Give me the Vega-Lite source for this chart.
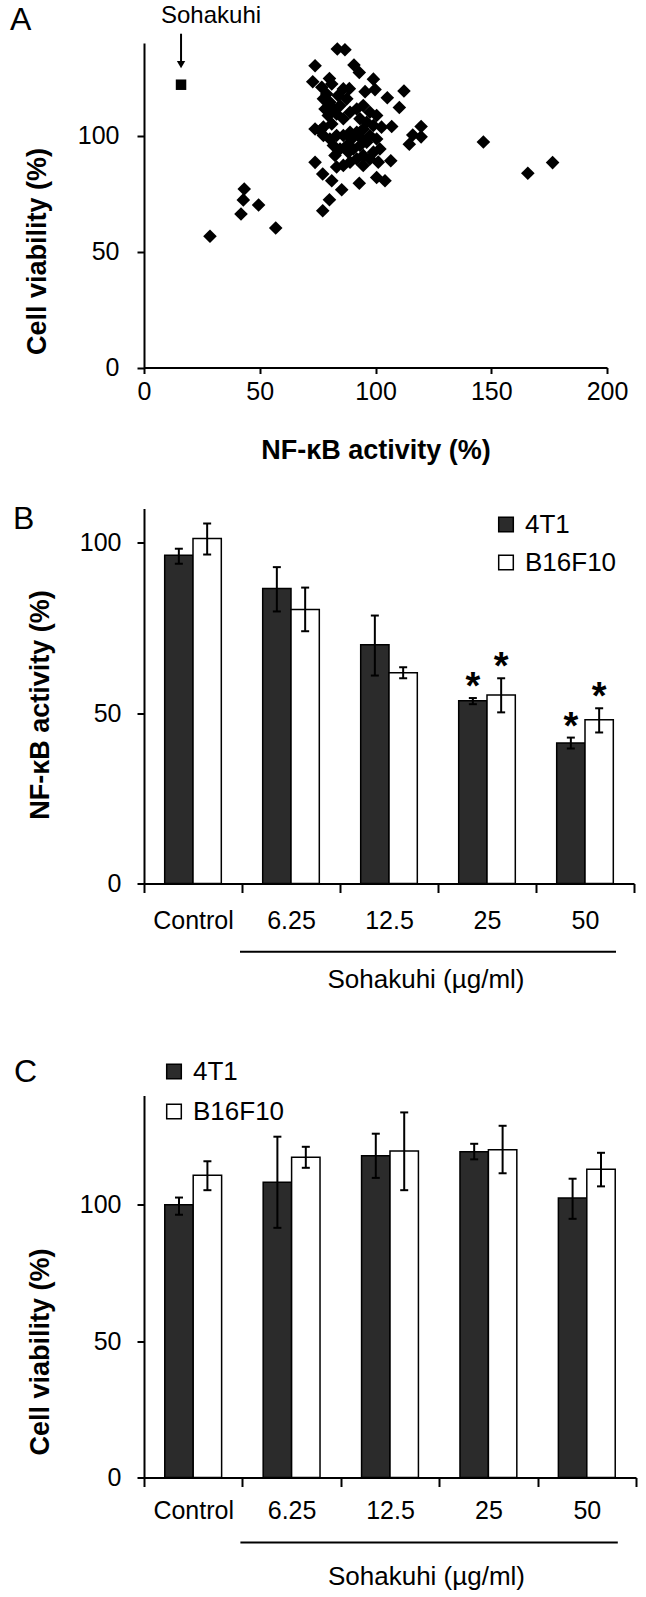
{
  "$schema": "https://vega.github.io/schema/vega-lite/v6.json",
  "padding": {"left": 10, "top": 3, "right": 5, "bottom": 5},
  "config": {
    "font": "Liberation Sans",
    "view": {"stroke": null},
    "axis": {"grid": false, "domainColor": "black", "tickColor": "black", "labelColor": "black", "titleColor": "black", "domainWidth": 2, "tickWidth": 2, "labelFontSize": 25, "titleFontSize": 27, "labelFlush": false, "labelOverlap": false, "labelFont": "Liberation Sans", "titleFont": "Liberation Sans"},
    "legend": {"labelFont": "Liberation Sans", "labelColor": "black"},
    "title": {"fontSize": 32, "fontWeight": "normal", "anchor": "start", "frame": "group", "color": "black", "font": "Liberation Sans"}
  },
  "datasets": {
    "scatter": [
      {"kind": "Sohakuhi", "nfkb": 16, "viability": 122},
      {"kind": "extract", "nfkb": 28.5, "viability": 56.6},
      {"kind": "extract", "nfkb": 43.3, "viability": 77.0},
      {"kind": "extract", "nfkb": 42.9, "viability": 72.3},
      {"kind": "extract", "nfkb": 49.5, "viability": 70.1},
      {"kind": "extract", "nfkb": 41.9, "viability": 66.2},
      {"kind": "extract", "nfkb": 56.9, "viability": 60.2},
      {"kind": "extract", "nfkb": 146.6, "viability": 97.3},
      {"kind": "extract", "nfkb": 165.8, "viability": 83.8},
      {"kind": "extract", "nfkb": 176.5, "viability": 88.4},
      {"kind": "extract", "nfkb": 77.2, "viability": 67.6},
      {"kind": "extract", "nfkb": 80.1, "viability": 72.4},
      {"kind": "extract", "nfkb": 73.9, "viability": 130.2},
      {"kind": "extract", "nfkb": 83.5, "viability": 137.4},
      {"kind": "extract", "nfkb": 86.8, "viability": 137.1},
      {"kind": "extract", "nfkb": 90.7, "viability": 130.5},
      {"kind": "extract", "nfkb": 93.0, "viability": 127.3},
      {"kind": "extract", "nfkb": 99.1, "viability": 124.4},
      {"kind": "extract", "nfkb": 112.3, "viability": 119.3},
      {"kind": "extract", "nfkb": 105.1, "viability": 116.4},
      {"kind": "extract", "nfkb": 110.3, "viability": 112.2},
      {"kind": "extract", "nfkb": 72.9, "viability": 123.3},
      {"kind": "extract", "nfkb": 80.1, "viability": 124.7},
      {"kind": "extract", "nfkb": 95.5, "viability": 119.0},
      {"kind": "extract", "nfkb": 99.8, "viability": 119.9},
      {"kind": "extract", "nfkb": 88.7, "viability": 120.3},
      {"kind": "extract", "nfkb": 107.0, "viability": 104.0},
      {"kind": "extract", "nfkb": 116.1, "viability": 100.3},
      {"kind": "extract", "nfkb": 119.7, "viability": 104.0},
      {"kind": "extract", "nfkb": 119.7, "viability": 99.5},
      {"kind": "extract", "nfkb": 114.6, "viability": 96.3},
      {"kind": "extract", "nfkb": 73.9, "viability": 102.9},
      {"kind": "extract", "nfkb": 73.9, "viability": 88.5},
      {"kind": "extract", "nfkb": 77.2, "viability": 83.5},
      {"kind": "extract", "nfkb": 81.1, "viability": 80.6},
      {"kind": "extract", "nfkb": 85.4, "viability": 76.7},
      {"kind": "extract", "nfkb": 93.0, "viability": 79.5},
      {"kind": "extract", "nfkb": 100.5, "viability": 82.0},
      {"kind": "extract", "nfkb": 104.1, "viability": 80.6},
      {"kind": "extract", "nfkb": 106.6, "viability": 89.2},
      {"kind": "extract", "nfkb": 76.8, "viability": 120.9},
      {"kind": "extract", "nfkb": 78.9, "viability": 118.0},
      {"kind": "extract", "nfkb": 77.5, "viability": 115.9},
      {"kind": "extract", "nfkb": 80.3, "viability": 114.4},
      {"kind": "extract", "nfkb": 78.2, "viability": 111.5},
      {"kind": "extract", "nfkb": 81.8, "viability": 111.5},
      {"kind": "extract", "nfkb": 79.6, "viability": 108.7},
      {"kind": "extract", "nfkb": 83.9, "viability": 117.3},
      {"kind": "extract", "nfkb": 86.1, "viability": 120.2},
      {"kind": "extract", "nfkb": 87.6, "viability": 115.9},
      {"kind": "extract", "nfkb": 84.7, "viability": 113.0},
      {"kind": "extract", "nfkb": 83.2, "viability": 109.4},
      {"kind": "extract", "nfkb": 81.1, "viability": 105.1},
      {"kind": "extract", "nfkb": 77.5, "viability": 103.7},
      {"kind": "extract", "nfkb": 89.0, "viability": 110.1},
      {"kind": "extract", "nfkb": 91.9, "viability": 111.5},
      {"kind": "extract", "nfkb": 94.7, "viability": 113.0},
      {"kind": "extract", "nfkb": 97.6, "viability": 110.1},
      {"kind": "extract", "nfkb": 93.3, "viability": 107.3},
      {"kind": "extract", "nfkb": 96.2, "viability": 105.8},
      {"kind": "extract", "nfkb": 100.5, "viability": 108.7},
      {"kind": "extract", "nfkb": 99.1, "viability": 104.4},
      {"kind": "extract", "nfkb": 94.7, "viability": 102.9},
      {"kind": "extract", "nfkb": 91.9, "viability": 101.5},
      {"kind": "extract", "nfkb": 89.0, "viability": 101.5},
      {"kind": "extract", "nfkb": 86.1, "viability": 100.1},
      {"kind": "extract", "nfkb": 83.2, "viability": 100.1},
      {"kind": "extract", "nfkb": 80.3, "viability": 98.6},
      {"kind": "extract", "nfkb": 77.5, "viability": 100.1},
      {"kind": "extract", "nfkb": 76.1, "viability": 102.2},
      {"kind": "extract", "nfkb": 81.8, "viability": 95.8},
      {"kind": "extract", "nfkb": 84.7, "viability": 94.3},
      {"kind": "extract", "nfkb": 87.6, "viability": 95.8},
      {"kind": "extract", "nfkb": 90.4, "viability": 94.3},
      {"kind": "extract", "nfkb": 93.3, "viability": 95.8},
      {"kind": "extract", "nfkb": 96.2, "viability": 97.2},
      {"kind": "extract", "nfkb": 97.6, "viability": 100.1},
      {"kind": "extract", "nfkb": 100.5, "viability": 98.6},
      {"kind": "extract", "nfkb": 101.9, "viability": 94.3},
      {"kind": "extract", "nfkb": 94.7, "viability": 91.5},
      {"kind": "extract", "nfkb": 91.9, "viability": 90.0},
      {"kind": "extract", "nfkb": 89.0, "viability": 88.6},
      {"kind": "extract", "nfkb": 86.1, "viability": 87.2},
      {"kind": "extract", "nfkb": 83.2, "viability": 86.5},
      {"kind": "extract", "nfkb": 94.7, "viability": 87.2},
      {"kind": "extract", "nfkb": 97.6, "viability": 90.0},
      {"kind": "extract", "nfkb": 99.1, "viability": 92.9},
      {"kind": "extract", "nfkb": 102.6, "viability": 103.7},
      {"kind": "extract", "nfkb": 86.1, "viability": 107.3},
      {"kind": "extract", "nfkb": 89.7, "viability": 98.6},
      {"kind": "extract", "nfkb": 93.3, "viability": 99.4},
      {"kind": "extract", "nfkb": 82.5, "viability": 91.5},
      {"kind": "extract", "nfkb": 101.2, "viability": 88.6},
      {"kind": "extract", "nfkb": 88.3, "viability": 92.9},
      {"kind": "extract", "nfkb": 81.1, "viability": 122.3}
    ],
    "nfkb": [
      {"conc": "Control", "line": "4T1", "mean": 96.3, "lo": 93.8, "hi": 98.2, "star": ""},
      {"conc": "Control", "line": "B16F10", "mean": 101.2, "lo": 96.5, "hi": 105.6, "star": ""},
      {"conc": "6.25", "line": "4T1", "mean": 86.5, "lo": 79.8, "hi": 92.8, "star": ""},
      {"conc": "6.25", "line": "B16F10", "mean": 80.4, "lo": 74.0, "hi": 86.8, "star": ""},
      {"conc": "12.5", "line": "4T1", "mean": 70.0, "lo": 61.0, "hi": 78.6, "star": ""},
      {"conc": "12.5", "line": "B16F10", "mean": 61.8, "lo": 60.2, "hi": 63.4, "star": ""},
      {"conc": "25", "line": "4T1", "mean": 53.6, "lo": 52.6, "hi": 54.4, "star": "*"},
      {"conc": "25", "line": "B16F10", "mean": 55.3, "lo": 50.2, "hi": 60.2, "star": "*"},
      {"conc": "50", "line": "4T1", "mean": 41.2, "lo": 39.6, "hi": 42.8, "star": "*"},
      {"conc": "50", "line": "B16F10", "mean": 48.0, "lo": 44.3, "hi": 51.4, "star": "*"}
    ],
    "viab": [
      {"conc": "Control", "line": "4T1", "mean": 100.0, "lo": 96.3, "hi": 102.6},
      {"conc": "Control", "line": "B16F10", "mean": 110.8, "lo": 105.3, "hi": 115.9},
      {"conc": "6.25", "line": "4T1", "mean": 108.2, "lo": 91.5, "hi": 124.9},
      {"conc": "6.25", "line": "B16F10", "mean": 117.4, "lo": 113.5, "hi": 121.2},
      {"conc": "12.5", "line": "4T1", "mean": 117.9, "lo": 109.8, "hi": 126.0},
      {"conc": "12.5", "line": "B16F10", "mean": 119.7, "lo": 105.3, "hi": 133.8},
      {"conc": "25", "line": "4T1", "mean": 119.4, "lo": 116.6, "hi": 122.3},
      {"conc": "25", "line": "B16F10", "mean": 120.1, "lo": 111.5, "hi": 128.9},
      {"conc": "50", "line": "4T1", "mean": 102.4, "lo": 94.8, "hi": 109.5},
      {"conc": "50", "line": "B16F10", "mean": 113.0, "lo": 106.7, "hi": 119.0}
    ],
    "bracket": [{"from": "6.25", "to": "50"}]
  },
  "vconcat": [
    {
      "width": 463,
      "height": 324.5,
      "title": {"text": "A", "dx": -134, "dy": 37.5},
      "data": {"name": "scatter"},
      "layer": [
        {
          "mark": {"type": "point", "filled": true, "opacity": 1, "color": "black"},
          "encoding": {
            "x": {"field": "nfkb", "type": "quantitative", "scale": {"domain": [0, 200], "nice": false},
              "axis": {"values": [0, 50, 100, 150, 200], "title": "NF-κB activity (%)", "titleFontWeight": "bold", "titleY": 83, "titleBaseline": "middle", "labelPadding": 6, "tickSize": 6}},
            "y": {"field": "viability", "type": "quantitative", "scale": {"domain": [0, 140], "nice": false},
              "axis": {"values": [0, 50, 100], "title": "Cell viability (%)", "titleFontWeight": "bold", "titleX": -107, "titleY": 208, "titleBaseline": "middle", "tickSize": 7, "labelPadding": 18}},
            "shape": {"field": "kind", "type": "nominal", "scale": {"domain": ["extract", "Sohakuhi"], "range": ["diamond", "square"]}, "legend": null},
            "size": {"field": "kind", "type": "nominal", "scale": {"domain": ["extract", "Sohakuhi"], "range": [185, 110]}, "legend": null}
          }
        },
        {
          "transform": [{"filter": "datum.kind === 'Sohakuhi'"}],
          "mark": {"type": "rule", "strokeWidth": 2, "color": "black", "yOffset": -51, "y2Offset": -20},
          "encoding": {
            "x": {"field": "nfkb", "type": "quantitative"},
            "y": {"field": "viability", "type": "quantitative"},
            "y2": {"field": "viability"}
          }
        },
        {
          "transform": [{"filter": "datum.kind === 'Sohakuhi'"}],
          "mark": {"type": "point", "shape": "triangle-down", "filled": true, "opacity": 1, "color": "black", "size": 70, "yOffset": -20},
          "encoding": {
            "x": {"field": "nfkb", "type": "quantitative"},
            "y": {"field": "viability", "type": "quantitative"}
          }
        },
        {
          "transform": [{"filter": "datum.kind === 'Sohakuhi'"}],
          "mark": {"type": "text", "fontSize": 24, "dx": 30, "dy": -69, "baseline": "middle", "color": "black"},
          "encoding": {
            "x": {"field": "nfkb", "type": "quantitative"},
            "y": {"field": "viability", "type": "quantitative"},
            "text": {"field": "kind"}
          }
        }
      ]
    },
    {
      "vconcat": [
        {
          "width": 490,
          "height": 375,
          "title": {"text": "B", "dx": -131, "dy": 45},
          "layer": [
            {
              "data": {"name": "nfkb"},
              "layer": [
                {
                  "mark": {"type": "bar", "stroke": "black", "strokeWidth": 1.5},
                  "encoding": {
                    "x": {"field": "conc", "type": "nominal", "scale": {"domain": ["Control", "6.25", "12.5", "25", "50"], "paddingInner": 0, "paddingOuter": 0},
                      "axis": {"title": "Sohakuhi (µg/ml)", "titleFontWeight": "normal", "titleFontSize": 26, "titleX": 281.5, "titleY": 96, "titleBaseline": "middle", "labelAngle": 0, "labelPadding": 16, "tickSize": 9, "tickBand": "extent"}},
                    "xOffset": {"field": "line", "type": "nominal", "scale": {"domain": ["4T1", "B16F10"], "paddingOuter": 0.731, "paddingInner": 0}},
                    "y": {"field": "mean", "type": "quantitative", "scale": {"domain": [0, 110], "nice": false},
                      "axis": {"values": [0, 50, 100], "title": "NF-κB activity (%)", "titleFontWeight": "bold", "titleX": -104, "titleY": 196, "titleBaseline": "middle", "tickSize": 7, "labelPadding": 16}},
                    "fill": {"field": "line", "type": "nominal", "scale": {"domain": ["4T1", "B16F10"], "range": ["#2b2b2b", "#ffffff"]},
                      "legend": {"orient": "none", "legendX": 349, "legendY": 3, "title": null, "symbolType": "square", "symbolSize": 213, "symbolStrokeColor": "black", "symbolStrokeWidth": 1.5, "labelFontSize": 26, "labelOffset": 6, "rowPadding": 12, "padding": 0}}
                  }
                },
                {
                  "mark": {"type": "rule", "strokeWidth": 2, "color": "black"},
                  "encoding": {
                    "x": {"field": "conc", "type": "nominal"},
                    "xOffset": {"field": "line", "type": "nominal"},
                    "y": {"field": "lo", "type": "quantitative"},
                    "y2": {"field": "hi"}
                  }
                },
                {
                  "mark": {"type": "tick", "orient": "horizontal", "size": 8, "thickness": 2, "color": "black", "opacity": 1},
                  "encoding": {
                    "x": {"field": "conc", "type": "nominal"},
                    "xOffset": {"field": "line", "type": "nominal"},
                    "y": {"field": "lo", "type": "quantitative"}
                  }
                },
                {
                  "mark": {"type": "tick", "orient": "horizontal", "size": 8, "thickness": 2, "color": "black", "opacity": 1},
                  "encoding": {
                    "x": {"field": "conc", "type": "nominal"},
                    "xOffset": {"field": "line", "type": "nominal"},
                    "y": {"field": "hi", "type": "quantitative"}
                  }
                },
                {
                  "mark": {"type": "text", "fontSize": 38, "fontWeight": "bold", "dy": 1, "baseline": "alphabetic", "color": "black"},
                  "encoding": {
                    "x": {"field": "conc", "type": "nominal"},
                    "xOffset": {"field": "line", "type": "nominal"},
                    "y": {"field": "hi", "type": "quantitative"},
                    "text": {"field": "star"}
                  }
                }
              ]
            },
            {
              "data": {"name": "bracket"},
              "mark": {"type": "rule", "strokeWidth": 2, "color": "black", "xOffset": -2, "x2Offset": 31},
              "encoding": {
                "x": {"field": "from", "type": "nominal", "bandPosition": 0},
                "x2": {"field": "to"},
                "y": {"datum": -20}
              }
            }
          ]
        },
        {
          "width": 492,
          "height": 382,
          "title": {"text": "C", "dx": -130, "dy": 34},
          "layer": [
            {
              "data": {"name": "viab"},
              "layer": [
                {
                  "mark": {"type": "bar", "stroke": "black", "strokeWidth": 1.5},
                  "encoding": {
                    "x": {"field": "conc", "type": "nominal", "scale": {"domain": ["Control", "6.25", "12.5", "25", "50"], "paddingInner": 0, "paddingOuter": 0},
                      "axis": {"title": "Sohakuhi (µg/ml)", "titleFontWeight": "normal", "titleFontSize": 26, "titleX": 282, "titleY": 99, "titleBaseline": "middle", "labelAngle": 0, "labelPadding": 12, "tickSize": 9, "tickBand": "extent"}},
                    "xOffset": {"field": "line", "type": "nominal", "scale": {"domain": ["4T1", "B16F10"], "paddingOuter": 0.731, "paddingInner": 0}},
                    "y": {"field": "mean", "type": "quantitative", "scale": {"domain": [0, 140], "nice": false},
                      "axis": {"values": [0, 50, 100], "title": "Cell viability (%)", "titleFontWeight": "bold", "titleX": -104, "titleY": 256, "titleBaseline": "middle", "tickSize": 7, "labelPadding": 16}},
                    "fill": {"field": "line", "type": "nominal", "scale": {"domain": ["4T1", "B16F10"], "range": ["#2b2b2b", "#ffffff"]},
                      "legend": {"orient": "none", "legendX": 17, "legendY": -37, "title": null, "symbolType": "square", "symbolSize": 213, "symbolStrokeColor": "black", "symbolStrokeWidth": 1.5, "labelFontSize": 26, "labelOffset": 6, "rowPadding": 14, "padding": 0}}
                  }
                },
                {
                  "mark": {"type": "rule", "strokeWidth": 2, "color": "black"},
                  "encoding": {
                    "x": {"field": "conc", "type": "nominal"},
                    "xOffset": {"field": "line", "type": "nominal"},
                    "y": {"field": "lo", "type": "quantitative"},
                    "y2": {"field": "hi"}
                  }
                },
                {
                  "mark": {"type": "tick", "orient": "horizontal", "size": 8, "thickness": 2, "color": "black", "opacity": 1},
                  "encoding": {
                    "x": {"field": "conc", "type": "nominal"},
                    "xOffset": {"field": "line", "type": "nominal"},
                    "y": {"field": "lo", "type": "quantitative"}
                  }
                },
                {
                  "mark": {"type": "tick", "orient": "horizontal", "size": 8, "thickness": 2, "color": "black", "opacity": 1},
                  "encoding": {
                    "x": {"field": "conc", "type": "nominal"},
                    "xOffset": {"field": "line", "type": "nominal"},
                    "y": {"field": "hi", "type": "quantitative"}
                  }
                }
              ]
            },
            {
              "data": {"name": "bracket"},
              "mark": {"type": "rule", "strokeWidth": 2, "color": "black", "xOffset": -2, "x2Offset": 31},
              "encoding": {
                "x": {"field": "from", "type": "nominal", "bandPosition": 0},
                "x2": {"field": "to"},
                "y": {"datum": -23.8}
              }
            }
          ]
        }
      ],
      "spacing": 212,
      "bounds": "flush",
      "resolve": {"scale": {"x": "independent", "y": "independent", "fill": "independent", "xOffset": "independent"}, "legend": {"fill": "independent"}}
    }
  ],
  "spacing": 140.5,
  "bounds": "flush",
  "resolve": {"scale": {"x": "independent", "y": "independent"}}
}
